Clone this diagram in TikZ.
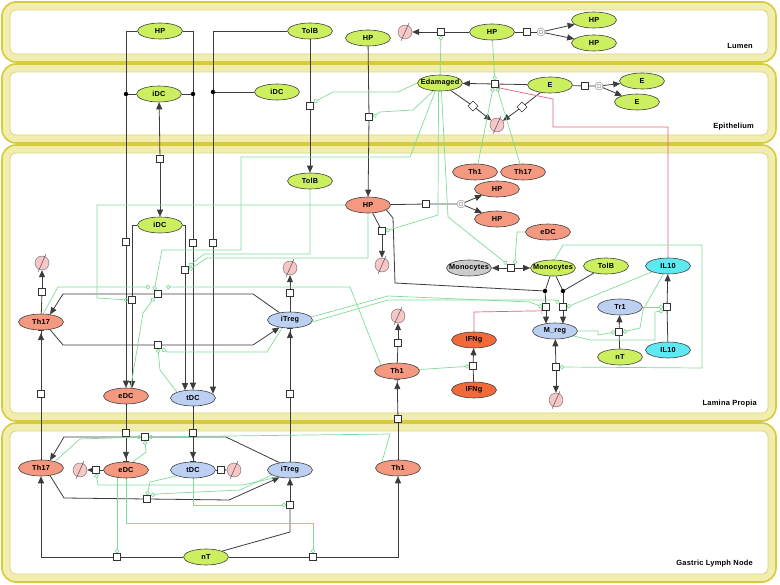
\documentclass[tikz,border=0pt]{standalone}
\usepackage{fontspec}
\setmainfont{Liberation Sans}[LetterSpace=3.0]
\usepackage{tikz}
\usetikzlibrary{arrows.meta,positioning,shapes.geometric,calc}
\definecolor{SbGreen}{HTML}{CBEF5E}
\definecolor{SbSalmon}{HTML}{F59880}
\definecolor{SbOrange}{HTML}{F26A3A}
\definecolor{SbBlue}{HTML}{BCD0F2}
\definecolor{SbCyan}{HTML}{5EE8F2}
\definecolor{SbGrey}{HTML}{CCCCCC}
\definecolor{SbPink}{HTML}{F7C6C6}
\definecolor{SbLine}{HTML}{3C3C3C}
\definecolor{SbCat}{HTML}{80DB98}
\definecolor{SbRed}{HTML}{E2637A}
\definecolor{SbBand}{HTML}{F1EDAE}
\definecolor{SbEdge}{HTML}{D6CB3E}
\definecolor{SbInner}{HTML}{DCD682}
\pgfdeclarelayer{wires}
\pgfsetlayers{wires,main}
\tikzset{
  species/.style={ellipse,draw=black!75,line width=0.6pt,minimum width=45pt,minimum height=16pt,
    inner sep=0pt,font=\bfseries\fontsize{7.3}{8}\selectfont},
  simple/.style={species,fill=SbGreen},
  cell/.style={species,fill=SbSalmon},
  treg/.style={species,fill=SbBlue},
  ilten/.style={species,fill=SbCyan},
  ifng/.style={species,fill=SbOrange},
  mono/.style={species,fill=SbGrey},
  sink/.style={circle,draw=black!60,fill=SbPink,minimum size=14pt,inner sep=0pt},
  proc/.style={rectangle,draw=black!80,fill=white,minimum size=7pt,inner sep=0pt,line width=0.6pt},
  dproc/.style={proc,rotate=45},
  assoc/.style={circle,draw=black!50,fill=white,minimum size=8pt,inner sep=0pt,
    path picture={\draw[black!50] (path picture bounding box.center) circle (2pt);}},
  junction/.style={circle,fill=black,minimum size=4.5pt,inner sep=0pt},
  link/.style={draw=SbLine,line width=0.8pt},
  conv/.style={link,-{Triangle[length=7pt,width=6pt]}},
  transp/.style={link,-{Triangle[length=7pt,width=6pt,sep=2pt]Bar[width=6pt]}},
  cat/.style={draw=SbCat,line width=0.7pt,-{Circle[open,length=4.5pt]}},
  inhib/.style={draw=SbRed,line width=0.7pt,-{Bar[width=6pt]}},
  compband/.style={draw=SbBand,line width=8pt,rounded corners=10pt},
  compedge/.style={draw=SbEdge,line width=1.6pt,rounded corners=14pt},
  compinner/.style={draw=SbInner,line width=0.8pt,rounded corners=6pt},
  complabel/.style={font=\bfseries\fontsize{7.5}{9}\selectfont,anchor=east,inner sep=0pt}
}
\newcommand\sinknode[2]{\node[sink] (#1) at (#2) {};
  \draw[black!70,line width=0.5pt] ($(#1.center)+(-4,9)$) -- ($(#1.center)+(4,-9)$);}

\begin{document}
\begin{tikzpicture}[x=1pt,y=-1pt]
  \useasboundingbox (0,0) rectangle (780,585);
  \begin{pgfonlayer}{wires}
    \foreach \ya/\yb in {2/62,64/143,145/421,423/582}{
      \draw[compband] (6,\ya+4) rectangle (772,\yb-4);
      \draw[compedge] (2,\ya) rectangle (776,\yb);
      \draw[compinner] (10,\ya+8) rectangle (768,\yb-8);
    }
  \end{pgfonlayer}
  \node[complabel] (labLumen) at (753,46) {Lumen};
  \node[complabel] (labEpi) at (754,127) {Epithelium};
  \node[complabel] (labLP) at (757,404) {Lamina Propia};
  \node[complabel] (labGLN) at (753,564) {Gastric Lymph Node};

  \node[simple] (hpA) at (160,31) {HP};
  \node[simple] (tolbA) at (310,31) {TolB};
  \node[simple] (hpB) at (368,38) {HP};
  \node[simple] (hpC) at (492,32) {HP};
  \node[simple] (hpC1) at (594,20) {HP};
  \node[simple] (hpC2) at (594,43) {HP};
  \sinknode{sinkA}{405,32}
  \node[proc] (pA) at (441,32) {};
  \node[proc] (pB) at (527,32) {};
  \node[assoc] (aA) at (541,32) {};

  \node[simple] (idcA) at (159,94) {iDC};
  \node[simple] (idcB) at (277,92) {iDC};
  \node[junction] (jA) at (126,94) {};
  \node[junction] (jB) at (193,94) {};
  \node[junction] (jC) at (213,92) {};
  \node[proc] (pC) at (310,106) {};
  \node[proc] (pD) at (369,117) {};
  \node[simple] (edam) at (440,83) {\makebox[20pt]{Edamaged}};
  \node[simple] (eA) at (550,85) {E};
  \node[simple] (eB) at (642,81) {E};
  \node[simple] (eC) at (637,102) {E};
  \node[proc] (pE) at (495,84) {};
  \node[proc] (pF) at (585,86) {};
  \node[assoc] (aB) at (599,86) {};
  \node[dproc] (qA) at (473,106) {};
  \node[dproc] (qB) at (522,107) {};
  \sinknode{sinkB}{497,125}

  \node[proc] (pG) at (160,159) {};
  \node[simple] (idcC) at (160,225) {iDC};
  \node[simple] (tolbC) at (310,181) {TolB};
  \node[cell] (hpD) at (368,205) {HP};
  \node[cell] (th1B) at (475,172) {Th1};
  \node[cell] (th17B) at (523,172) {Th17};
  \node[cell] (hpD1) at (497,189) {HP};
  \node[cell] (hpD2) at (497,219) {HP};
  \node[proc] (pH) at (426,204) {};
  \node[assoc] (aC) at (461,204) {};
  \node[proc] (pI) at (382,231) {};
  \sinknode{sinkC}{382,265}
  \node[cell] (edcB) at (548,232) {eDC};
  \node[mono] (monoG) at (469,268) {\makebox[20pt]{Monocytes}};
  \node[proc] (pJ) at (511,268) {};
  \node[simple] (monoA) at (553,268) {\makebox[20pt]{Monocytes}};
  \node[simple] (tolbD) at (606,266) {TolB};
  \node[ilten] (il10A) at (668,266) {IL10};
  \node[junction] (jD) at (545,291) {};
  \node[junction] (jE) at (563,291) {};
  \node[proc] (pK) at (546,307) {};
  \node[proc] (pL) at (563,307) {};
  \node[treg] (mreg) at (555,331) {M\_reg};
  \node[treg] (tr1) at (620,307) {Tr1};
  \node[proc] (pM) at (619,332) {};
  \node[simple] (ntB) at (620,357) {nT};
  \node[ilten] (il10B) at (668,350) {IL10};
  \node[proc] (pN) at (667,307) {};
  \node[ifng] (ifnA) at (474,340) {IFNg};
  \node[ifng] (ifnB) at (474,390) {IFNg};
  \node[proc] (pO) at (473,366) {};
  \node[proc] (pP) at (556,367) {};
  \sinknode{sinkD}{556,400}
  \node[cell] (th1A) at (397,371) {Th1};
  \node[proc] (pQ) at (398,343) {};
  \sinknode{sinkE}{398,316}
  \node[proc] (pR) at (398,419) {};
  \node[cell] (th17A) at (41,322) {Th17};
  \node[proc] (pS) at (42,292) {};
  \sinknode{sinkF}{42,263}
  \node[proc] (pT) at (41,394) {};
  \node[treg] (itregA) at (290,320) {iTreg};
  \node[proc] (pU) at (290,293) {};
  \sinknode{sinkG}{290,268}
  \node[proc] (pV) at (290,394) {};
  \node[proc] (pW) at (158,294) {};
  \node[proc] (pX) at (158,345) {};
  \node[proc] (pY1) at (126,242) {};
  \node[proc] (pY2) at (132,300) {};
  \node[proc] (pY3) at (193,243) {};
  \node[proc] (pY4) at (185,270) {};
  \node[proc] (pY5) at (213,243) {};
  \node[cell] (edcA) at (126,396) {eDC};
  \node[treg] (tdcA) at (193,398) {tDC};

  \node[cell] (th17C) at (41,468) {Th17};
  \sinknode{sinkH}{80,470}
  \node[proc] (pZ1) at (96,470) {};
  \node[cell] (edcC) at (126,470) {eDC};
  \node[treg] (tdcC) at (193,470) {tDC};
  \node[proc] (pZ2) at (221,470) {};
  \sinknode{sinkI}{234,470}
  \node[treg] (itregC) at (290,470) {iTreg};
  \node[cell] (th1C) at (398,468) {Th1};
  \node[simple] (ntA) at (206,557) {nT};
  \node[proc] (pZ3) at (126,433) {};
  \node[proc] (pZ4) at (193,433) {};
  \node[proc] (pZ5) at (117,557) {};
  \node[proc] (pZ6) at (313,557) {};
  \node[proc] (pZ7) at (290,505) {};
  \node[proc] (pZ8) at (145,437) {};
  \node[proc] (pZ9) at (147,499) {};

  \begin{pgfonlayer}{wires}
    \draw[link] (hpC) -- (pA); \draw[conv] (pA) -- (sinkA);
    \draw[link] (hpC) -- (pB) -- (aA);
    \draw[conv] (aA) -- (hpC1); \draw[conv] (aA) -- (hpC2);
    \draw[link] (hpA.west) -- (hpA.west -| jA) -- (jA);
    \draw[link] (hpA.east) -- (hpA.east -| jB) -- (jB);
    \draw[link] (jA) -- (idcA) -- (jB);
    \draw[link] (tolbA.west) -- (tolbA.west -| jC) -- (jC);
    \draw[link] (jC) -- (idcB);
    \draw[link] (jA) -- (pY1); \draw[conv] (pY1) -- (edcA);
    \draw[link] (jB) -- (pY3); \draw[conv] (pY3) -- (tdcA);
    \draw[link] (jC) -- (pY5); \draw[conv] (pY5) -- ($(pY5 |- tdcA.north)+(0,4)$);
    \draw[link] (idcC.west) -- (idcC.west -| pY2) -- (pY2);
    \draw[conv] (pY2) -- ($(pY2 |- edcA.north)+(0,0.5)$);
    \draw[link] (idcC.east) -- (idcC.east -| pY4) -- (pY4);
    \draw[conv] (pY4) -- ($(pY4 |- tdcA.north)+(0,0.5)$);
    \draw[conv] (pG) -- (idcA); \draw[conv] (pG) -- (idcC);
    \draw[link] (tolbA) -- (pC); \draw[conv] (pC) -- (tolbC);
    \draw[link] (hpB) -- (pD); \draw[conv] (pD) -- (hpD);
    \draw[link] (eA) -- (pE); \draw[conv] (pE) -- (edam);
    \draw[link] (eA) -- (pF) -- (aB);
    \draw[conv] (aB) -- (eB); \draw[conv] (aB) -- (eC);
    \draw[link] (edam) -- (qA); \draw[conv] (qA) -- (sinkB);
    \draw[link] (eA) -- (qB); \draw[conv] (qB) -- (sinkB);
    \draw[link] (hpD) -- (pH) -- (aC);
    \draw[conv] (aC) -- (hpD1); \draw[conv] (aC) -- (hpD2);
    \draw[link] (hpD.-60) -- (pI); \draw[conv] (pI) -- (sinkC);
    \draw[link] (hpD.-15) -- (393,218) -- (395,283) -- (jD);
    \draw[conv] (pJ) -- (monoG); \draw[conv] (pJ) -- (monoA);
    \draw[link] (monoA.-110) -- (jD); \draw[link] (monoA.-70) -- (jE);
    \draw[link] (tolbD) -- (jE);
    \draw[link] (jD) -- (pK); \draw[conv] (pK) -- ($(pK |- mreg.north)+(0,1)$);
    \draw[link] (jE) -- (pL); \draw[conv] (pL) -- ($(pL |- mreg.north)+(0,1)$);
    \draw[link] (ntB) -- (pM); \draw[conv] (pM) -- (tr1);
    \draw[link] (il10B) -- (pN); \draw[conv] (pN) -- (il10A);
    \draw[link] (ifnB) -- (pO); \draw[conv] (pO) -- (ifnA);
    \draw[conv] (pP) -- (mreg); \draw[conv] (pP) -- (sinkD);
    \draw[link] (th1A) -- (pQ); \draw[conv] (pQ) -- (sinkE);
    \draw[link] (th17A) -- (pS); \draw[conv] (pS) -- (sinkF);
    \draw[link] (itregA) -- (pU); \draw[conv] (pU) -- (sinkG);
    \draw[link] (th1C) -- (pR); \draw[transp] (pR) -- (th1A);
    \draw[link] (th17C) -- (pT); \draw[transp] (pT) -- (th17A);
    \draw[link] (itregC) -- (pV); \draw[transp] (pV) -- (itregA);
    \draw[link] (itregA.145) -- (253,294) -- (pW); \draw[conv] (pW) -- (63,294) -- (th17A.40);
    \draw[link] (th17A.-40) -- (63,345) -- (pX); \draw[conv] (pX) -- (253,345) -- (itregA.-145);
    \draw[link] (edcA) -- (pZ3); \draw[transp] (pZ3) -- (edcC);
    \draw[link] (tdcA) -- (pZ4); \draw[transp] (pZ4) -- (tdcC);
    \draw[link] (edcC) -- (pZ1); \draw[conv] (pZ1) -- (sinkH);
    \draw[link] (tdcC) -- (pZ2); \draw[conv] (pZ2) -- (sinkI);
    \draw[link] (ntA) -- (pZ5); \draw[conv] (pZ5) -- (pZ5 -| th17C) -- (th17C);
    \draw[link] (ntA) -- (pZ6); \draw[conv] (pZ6) -- (pZ6 -| th1C) -- (th1C);
    \draw[link] (ntA.20) -- (290,532) -- (pZ7); \draw[conv] (pZ7) -- (itregC);
    \draw[link] (itregC.145) -- (226,437) -- (pZ8); \draw[conv] (pZ8) -- (64,437) -- (th17C.40);
    \draw[link] (th17C.-40) -- (64,498) -- (pZ9); \draw[conv] (pZ9) -- (229,500) -- (itregC.-145);

    \draw[inhib] (il10A) -- (668,127) -- (553,127) -- (553,99) -- (pE.south east);
    \draw[inhib] (ifnA) -- (474,312) -- (pK.south west);

    \draw[cat] (edam) -- (pA);
    \draw[cat] (hpC) -- (pE);
    \draw[cat] (th1B.70) -- ($(pE.south)+(-2,0)$);
    \draw[cat] (th17B.110) -- ($(pE.south)+(2,0)$);
    \draw[cat] (edam.west) -- (398,92) -- (333,92) -- (pC.north east);
    \draw[cat] (edam.230) -- (413,110) -- (380,112) -- (pD.east);
    \draw[cat] (edam.240) -- (410,157) -- (241,157) -- (241,250) -- (162,250) -- (pW.north west);
    \draw[cat] (edam.260) -- (438,215) -- (pI.east);
    \draw[cat] (edam.280) -- (448,217) -- (pJ.north west);
    \draw[cat] (edcB.west) -- (517,232) -- (pJ.north east);
    \draw[cat] (hpD.west) -- (97,205) -- (97,298) -- (pY2.west);
    \draw[cat] (tolbC) -- (310,254) -- (204,254) -- (pY4.north east);
    \draw[cat] (hpD) -- (368,258) -- (207,258) -- (pY4.east);
    \draw[cat] (th17A.75) -- (58,287) -- (150,287);
    \draw[cat] (th1A.north west) -- (350,287) -- (166,287);
    \draw[cat] (edcA.60) -- (143,313) -- (pW.south west);
    \draw[cat] (itregA.-135) -- (267,352) -- (167,352) -- (pX.south east);
    \draw[cat] (tdcA.north west) -- (160,370) -- (pX.south);
    \draw[cat] (itregA.8) -- (388,296) -- (530,302) -- (pK.west);
    \draw[cat] (itregA.-5) -- (388,300) -- (555,300) -- (pL.north west);
    \draw[cat] (monoA.80) -- (563,245) -- (702,245) -- (702,368) -- (pP.east);
    \draw[cat] (il10A.200) -- (pL.east);
    \draw[cat] (il10A.240) -- (643,310) -- (640,328) -- (pM.east);
    \draw[cat] (mreg.east) -- (598,331) -- (598,335) -- (pM.west);
    \draw[cat] (mreg.-15) -- (590,340) -- (655,340) -- (655,312) -- (pN.south west);
    \draw[cat] (tr1) -- (pN);
    \draw[cat] (th1A) -- (pO);

    \draw[cat] ($(pZ5 |- edcC.south)+(0,-1)$) -- (pZ5);
    \draw[cat] (edcC) -- (126,523) -- (313,523) -- (pZ6);
    \draw[cat] (tdcC) -- (193,505) -- (pZ7);
    \draw[cat] (itregC.-150) -- (243,485) -- (98,485) -- (pZ1.south);
    \draw[cat] (itregC.-165) -- (240,490) -- (157,494) -- (pZ9.north east);
    \draw[cat] (tdcC.200) -- (150,482) -- (pZ9.north);
    \draw[cat] (th17C.25) -- (80,439) -- (pZ8.west);
    \draw[cat] (edcC.50) -- (146,452) -- (pZ8.south);
    \draw[cat] (th1C.north west) -- (390,434) -- (pZ8.east);
  \end{pgfonlayer}
\end{tikzpicture}
\end{document}
